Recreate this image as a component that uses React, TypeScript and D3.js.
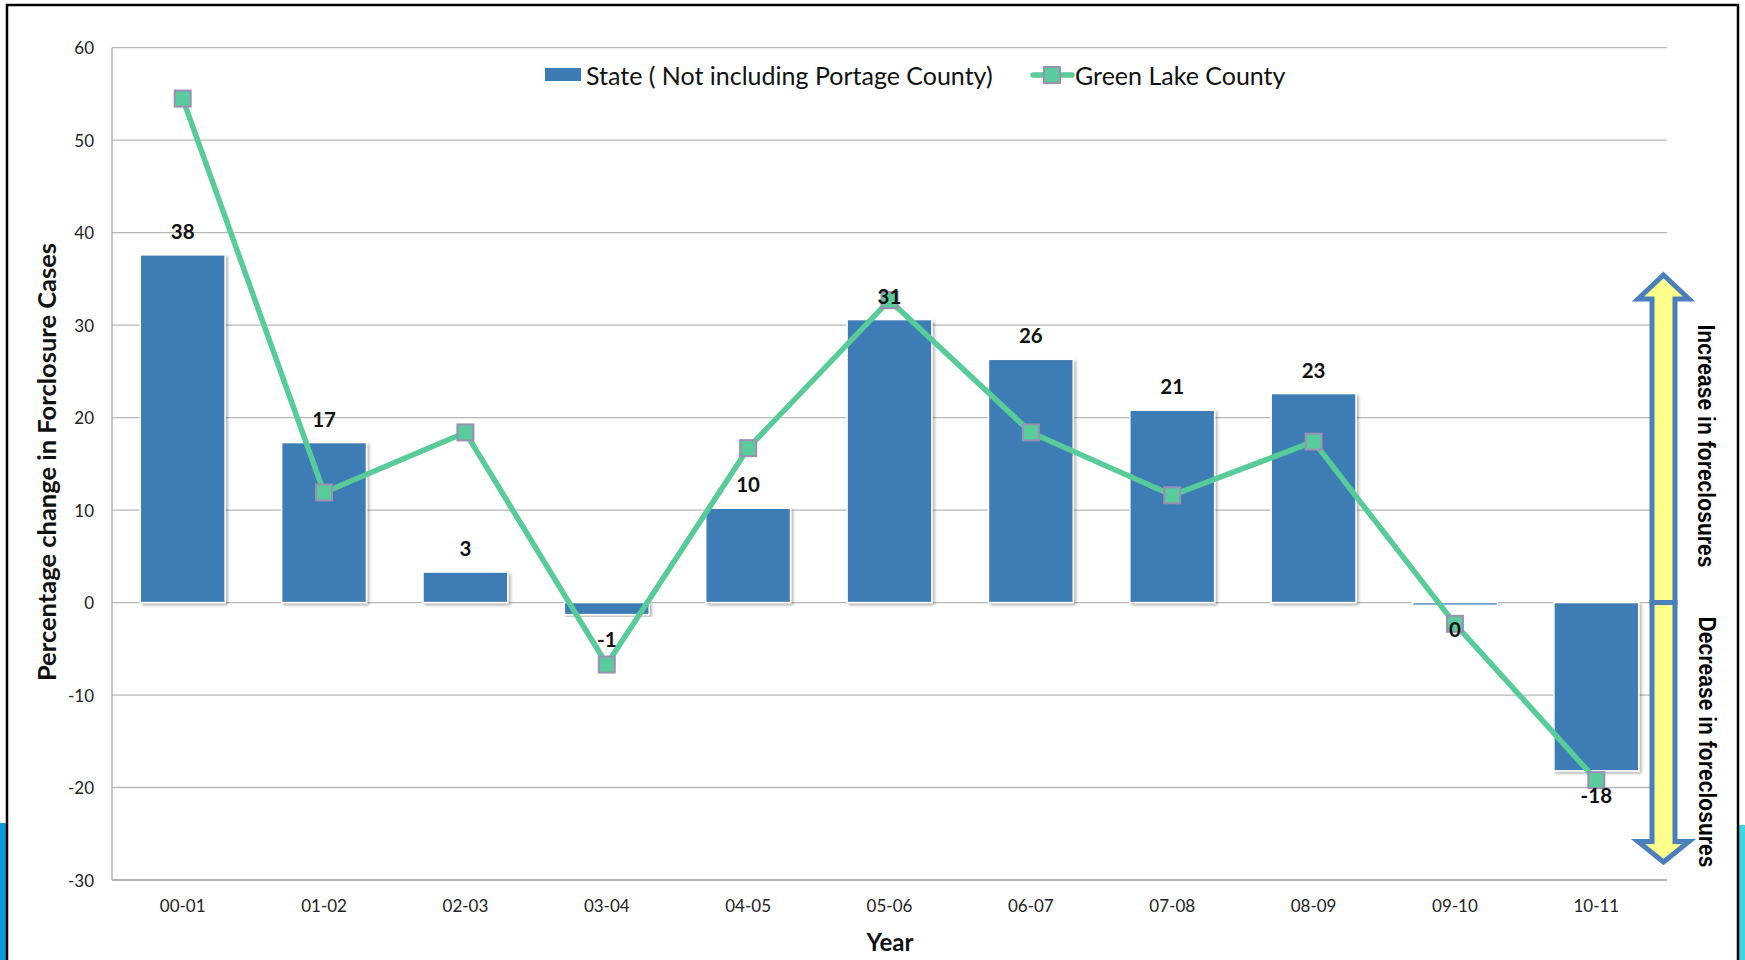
import React from 'react'
import * as d3 from 'd3'

const years = ['00-01', '01-02', '02-03', '03-04', '04-05', '05-06', '06-07', '07-08', '08-09', '09-10', '10-11']
const stateValues = [37.6, 17.3, 3.3, -1.3, 10.2, 30.6, 26.3, 20.8, 22.6, -0.3, -18.2]
const greenLakeValues = [54.5, 11.9, 18.4, -6.7, 16.7, 32.7, 18.4, 11.6, 17.4, -2.3, -19.2]
const yTicks = [-30, -20, -10, 0, 10, 20, 30, 40, 50, 60]

const W = 1745
const H = 960
const LEFT = 112
const RIGHT = 1667
const TOP = 47.7
const BOTTOM = 880

const BAR_COLOR = '#3d7bb4'
const LINE_COLOR = '#57cc98'
const CAL = 'Lato, "Open Sans", sans-serif'

const App = () => {
  const x = d3.scaleBand<string>().domain(years).range([LEFT, RIGHT]).paddingInner(0.4).paddingOuter(0.2)
  const y = d3.scaleLinear().domain([-30, 60]).range([BOTTOM, TOP])
  const cx = (d: string) => (x(d) as number) + x.bandwidth() / 2

  const line = d3.line<number>()
    .x((_, i) => cx(years[i]))
    .y(d => y(d))

  // arrow shapes at the right
  const ax = 1663.5
  const y0 = y(0)
  const upArrow = `M${ax},275 L${ax + 25.5},299 L${ax + 11.5},299 L${ax + 11.5},${y0} L${ax - 11.5},${y0} L${ax - 11.5},299 L${ax - 25.5},299 Z`
  const downArrow = `M${ax},862 L${ax + 25.5},841.5 L${ax + 11.5},841.5 L${ax + 11.5},${y0} L${ax - 11.5},${y0} L${ax - 11.5},841.5 L${ax - 25.5},841.5 Z`

  return (
    <svg width={W} height={H} style={{ position: 'absolute', left: 0, top: 0, background: '#fff' }}>
      <defs>
        <filter id="shadow" x="-10%" y="-10%" width="130%" height="130%">
          <feDropShadow dx="2" dy="2" stdDeviation="1.5" floodColor="#000" floodOpacity="0.3" />
        </filter>
      </defs>

      {/* side strips and frame */}
      <rect x={0} y={823} width={7} height={H - 823} fill="#0b9bd7" />
      <rect x={1739} y={825} width={6} height={H - 825} fill="#3dd6e0" />
      <rect x={7} y={5} width={1731} height={H + 20} fill="none" stroke="#000" strokeWidth={2.5} />

      {/* grid */}
      {yTicks.map(t => (
        <g key={t}>
          <line x1={LEFT} x2={RIGHT} y1={y(t)} y2={y(t)} stroke={t === -30 ? '#9a9a9a' : '#b8b8b8'} strokeWidth={1.3} />
          <text x={94} y={y(t)} textAnchor="end" dominantBaseline="central" fontFamily={CAL} fontSize={17} fill="#222">{t}</text>
        </g>
      ))}
      <line x1={LEFT} x2={LEFT} y1={TOP} y2={BOTTOM} stroke="#a6a6a6" strokeWidth={1.3} />

      {/* bars */}
      {years.map((d, i) => {
        const v = stateValues[i]
        const top = y(Math.max(0, v))
        const h = Math.abs(y(v) - y(0))
        return (
          <rect key={d} x={x(d)} y={top} width={x.bandwidth()} height={h}
            fill={BAR_COLOR} stroke="#fff" strokeWidth={1.5} filter="url(#shadow)" />
        )
      })}

      {/* x labels */}
      {years.map(d => (
        <text key={d} x={cx(d)} y={905} textAnchor="middle" dominantBaseline="central" fontFamily={CAL} fontSize={17} fill="#222">{d}</text>
      ))}

      {/* line */}
      <path d={line(greenLakeValues) || ''} fill="none" stroke={LINE_COLOR} strokeWidth={5.5} strokeLinejoin="round" />
      {greenLakeValues.map((v, i) => (
        <rect key={i} x={cx(years[i]) - 8} y={y(v) - 8} width={16} height={16}
          fill="#5acc9c" stroke="#9b8fb6" strokeWidth={2} />
      ))}

      {/* bar labels */}
      {years.map((d, i) => {
        const v = stateValues[i]
        const ly = v > 0 ? y(v) - 16 : y(v) + 32
        return (
          <text key={d} x={cx(d)} y={ly} textAnchor="middle" fontFamily={CAL} fontWeight="bold" fontSize={20.5} fill="#111">
            {String(Math.round(v))}
          </text>
        )
      })}

      {/* legend */}
      <rect x={545} y={68} width={36} height={13} fill={BAR_COLOR} />
      <text x={586} y={75} dominantBaseline="central" fontFamily={CAL} fontSize={25} fill="#111">State ( Not including Portage County)</text>
      <line x1={1033} x2={1072} y1={75} y2={75} stroke={LINE_COLOR} strokeWidth={5.5} strokeLinecap="round" />
      <rect x={1044} y={67} width={16} height={16} fill="#5acc9c" stroke="#9b8fb6" strokeWidth={2} />
      <text x={1075} y={75} dominantBaseline="central" fontFamily={CAL} fontSize={25} fill="#111">Green Lake County</text>

      {/* axis titles */}
      <text transform={`translate(46,462) rotate(-90)`} textAnchor="middle" dominantBaseline="central" fontFamily={CAL} fontWeight="bold" fontSize={25.5} fill="#111">
        Percentage change in Forclosure Cases
      </text>
      <text x={890} y={941} textAnchor="middle" dominantBaseline="central" fontFamily={CAL} fontWeight="bold" fontSize={24} fill="#111">Year</text>

      {/* arrows */}
      <path d={upArrow} fill="#ffff8c" stroke="#4a7fbb" strokeWidth={5} strokeLinejoin="miter" />
      <path d={downArrow} fill="#ffff8c" stroke="#4a7fbb" strokeWidth={5} strokeLinejoin="miter" />
      <text transform={`translate(1706,446) rotate(90)`} textAnchor="middle" dominantBaseline="central"
        fontFamily='"Liberation Sans", Arial, sans-serif' fontWeight="bold" fontSize={23} textLength={243} lengthAdjust="spacingAndGlyphs" fill="#000">
        Increase in foreclosures
      </text>
      <text transform={`translate(1707,742) rotate(90)`} textAnchor="middle" dominantBaseline="central"
        fontFamily='"Liberation Sans", Arial, sans-serif' fontWeight="bold" fontSize={23} textLength={251} lengthAdjust="spacingAndGlyphs" fill="#000">
        Decrease in foreclosures
      </text>
    </svg>
  )
}

export default App
